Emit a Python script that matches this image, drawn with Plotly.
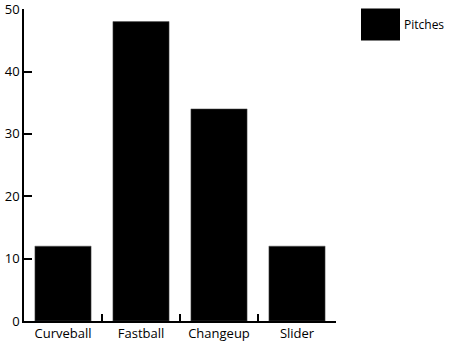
import plotly.graph_objects as go

categories = ["Curveball", "Fastball", "Changeup", "Slider"]
pitches = [12, 48, 34, 12]
series_name = "Pitches"
y_ticks = [0, 10, 20, 30, 40, 50]

fig = go.Figure()
fig.add_trace(go.Bar(
    x=categories, y=pitches, name=series_name,
    marker=dict(color="#000000", line=dict(color="#555555", width=0.5)),
    showlegend=False,
))

# manual legend (large swatch like the reference)
fig.add_shape(type="rect", xref="paper", yref="paper",
              x0=(361-24)/312, x1=(400-24)/312, y0=(321.5-40)/313, y1=(321.5-8)/313,
              fillcolor="#000000", line=dict(width=0))
fig.add_annotation(text=series_name, xref="paper", yref="paper",
                   x=(402-24)/312, y=(321.5-24)/313, xanchor="left", yanchor="middle",
                   showarrow=False, font=dict(size=12, color="#000000"))

fig.update_layout(
    width=450, height=343,
    margin=dict(l=24, r=114, t=8.5, b=21.5, autoexpand=False),
    paper_bgcolor="white", plot_bgcolor="white",
    font=dict(family="Open Sans", size=13, color="#000000"),
    bargap=0.28,
    xaxis=dict(showline=True, linecolor="#000000", linewidth=1.5,
               ticks="inside", tickson="boundaries", ticklen=7, tickwidth=1.5,
               tickcolor="#000000", showgrid=False, zeroline=False,
               automargin=False, ticklabelstandoff=0),
    yaxis=dict(range=[0, 50.02], tickvals=y_ticks, showline=True, linecolor="#000000",
               linewidth=1.5, ticks="inside", ticklen=8, tickwidth=1.5,
               tickcolor="#000000", showgrid=False, zeroline=False,
               automargin=False, ticklabeloverflow="allow"),
)

fig.write_html("out.html")
